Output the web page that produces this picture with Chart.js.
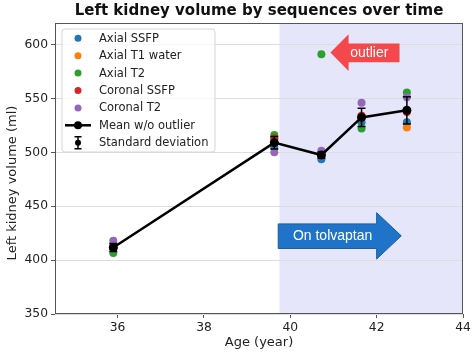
<!DOCTYPE html>
<html>
<head>
<meta charset="utf-8">
<script src="https://cdn.jsdelivr.net/npm/chart.js@4.4.0/dist/chart.umd.min.js"></script>
<style>
  html, body { margin: 0; padding: 0; background: #ffffff; }
  #wrap { width: 474px; height: 355px; }
</style>
</head>
<body>
<div id="wrap"><canvas id="c" width="474" height="355"></canvas></div>
<script>
// ---- data ----
const ages         = [35.9, 39.63, 40.72, 41.65, 42.7];
const axialSSFP    = [412, 505, 493.5, 528, 528];
const axialT1water = [411, 512, 497, 532, 523];
const axialT2      = [406.5, 516, 591, 522, 555.5];
const coronalSSFP  = [411, 513, 498, 534, 537.5];
const coronalT2    = [418, 500, 501.5, 546, 551];
const meanNoOutlier = [411.7, 509, 497.5, 532.4, 539];
const stdDev        = [3.7, 5.8, 2.8, 8.5, 12.6];
const xTicks = [36, 38, 40, 42, 44];
const yTicks = [350, 400, 450, 500, 550, 600];
const treatmentStart = 39.75;
const seriesNames = ['Axial SSFP', 'Axial T1 water', 'Axial T2', 'Coronal SSFP', 'Coronal T2'];
const seriesColors = ['#1f77b4', '#ff7f0e', '#2ca02c', '#d62728', '#9467bd'];
const seriesValues = [axialSSFP, axialT1water, axialT2, coronalSSFP, coronalT2];

const FONT = '"DejaVu Sans", sans-serif';

function pts(vals) { return ages.map((a, i) => ({ x: a, y: vals[i] })); }

const datasets = seriesValues.map((v, i) => ({
  label: seriesNames[i],
  data: pts(v),
  showLine: false,
  pointRadius: 4,
  pointBorderWidth: 0,
  pointBackgroundColor: seriesColors[i],
  pointBorderColor: seriesColors[i],
  order: 5 - i
}));
datasets.push({
  label: 'Mean w/o outlier',
  data: pts(meanNoOutlier),
  showLine: true,
  borderColor: '#000',
  borderWidth: 2.5,
  pointRadius: 4.5,
  pointBorderWidth: 0,
  pointBackgroundColor: '#000',
  order: 0
});

const decor = {
  id: 'decor',
  beforeDraw(chart) {
    const { ctx, chartArea: a, scales: { x, y } } = chart;
    ctx.save();
    ctx.fillStyle = '#ffffff';
    ctx.fillRect(0, 0, chart.width, chart.height);
    const xs = x.getPixelForValue(treatmentStart);
    ctx.fillStyle = '#e6e6fa';
    ctx.fillRect(xs, a.top, a.right - xs, a.bottom - a.top);
    ctx.restore();
  },
  afterDatasetsDraw(chart) {
    const { ctx, chartArea: a, scales: { x, y } } = chart;
    ctx.save();
    // error bars
    ctx.strokeStyle = '#000';
    ctx.lineWidth = 1.5;
    ages.forEach((age, i) => {
      const px = x.getPixelForValue(age);
      const t = y.getPixelForValue(meanNoOutlier[i] + stdDev[i]);
      const b = y.getPixelForValue(meanNoOutlier[i] - stdDev[i]);
      ctx.beginPath();
      ctx.moveTo(px, t); ctx.lineTo(px, b);
      ctx.moveTo(px - 4, t); ctx.lineTo(px + 4, t);
      ctx.moveTo(px - 4, b); ctx.lineTo(px + 4, b);
      ctx.stroke();
    });

    // outlier arrow (left pointing)
    const X = v => x.getPixelForValue(v), Y = v => y.getPixelForValue(v);
    ctx.fillStyle = '#f5484c';
    ctx.beginPath();
    ctx.moveTo(X(40.93), Y(592.6));
    ctx.lineTo(X(41.35), Y(609.5));
    ctx.lineTo(X(41.35), Y(601));
    ctx.lineTo(X(42.53), Y(601));
    ctx.lineTo(X(42.53), Y(583.5));
    ctx.lineTo(X(41.35), Y(583.5));
    ctx.lineTo(X(41.35), Y(575.5));
    ctx.closePath();
    ctx.fill();
    ctx.fillStyle = '#ffffff';
    ctx.font = '14px "Liberation Sans", Arial, sans-serif';
    ctx.textAlign = 'center';
    ctx.textBaseline = 'middle';
    ctx.fillText('outlier', X(41.83), Y(592.3));

    // on tolvaptan arrow (right pointing)
    ctx.fillStyle = '#1f74c9';
    ctx.strokeStyle = '#1a5c9e';
    ctx.lineWidth = 1;
    ctx.beginPath();
    ctx.moveTo(X(39.72), Y(433.6));
    ctx.lineTo(X(42.0), Y(433.6));
    ctx.lineTo(X(42.0), Y(444));
    ctx.lineTo(X(42.57), Y(422.5));
    ctx.lineTo(X(42.0), Y(401));
    ctx.lineTo(X(42.0), Y(410.8));
    ctx.lineTo(X(39.72), Y(410.8));
    ctx.closePath();
    ctx.fill();
    ctx.stroke();
    ctx.fillStyle = '#ffffff';
    ctx.fillText('On tolvaptan', X(40.98), Y(422.3));
    ctx.restore();
  },
  afterDraw(chart) {
    const { ctx, chartArea: a } = chart;
    ctx.save();
    // axes box
    ctx.strokeStyle = '#555';
    ctx.lineWidth = 1;
    ctx.strokeRect(a.left + 0.5, a.top + 0.5, a.right - a.left - 1, a.bottom - a.top - 1);

    // title
    ctx.fillStyle = '#111';
    ctx.textAlign = 'center';
    ctx.textBaseline = 'middle';
    ctx.font = 'bold 15px ' + FONT;
    ctx.fillText('Left kidney volume by sequences over time', (a.left + a.right) / 2, 11.5);

    // axis titles
    ctx.font = '13px ' + FONT;
    ctx.fillStyle = '#222';
    ctx.fillText('Age (year)', (a.left + a.right) / 2, 343);
    ctx.save();
    ctx.translate(13, 183);
    ctx.rotate(-Math.PI / 2);
    ctx.fillText('Left kidney volume (ml)', 0, 0);
    ctx.restore();

    // legend
    const lx = 62, ly = 29, lw = 153, lh = 123, r = 3;
    ctx.beginPath();
    ctx.moveTo(lx + r, ly);
    ctx.arcTo(lx + lw, ly, lx + lw, ly + lh, r);
    ctx.arcTo(lx + lw, ly + lh, lx, ly + lh, r);
    ctx.arcTo(lx, ly + lh, lx, ly, r);
    ctx.arcTo(lx, ly, lx + lw, ly, r);
    ctx.closePath();
    ctx.fillStyle = 'rgba(255,255,255,0.8)';
    ctx.fill();
    ctx.strokeStyle = '#d6d6d6';
    ctx.lineWidth = 1;
    ctx.stroke();

    const labels = seriesNames.concat(['Mean w/o outlier', 'Standard deviation']);
    ctx.font = '11.5px ' + FONT;
    ctx.textAlign = 'left';
    ctx.textBaseline = 'middle';
    labels.forEach((lab, i) => {
      const yy = 38.3 + i * 17.4;
      const mx = 78;
      if (i < 5) {
        ctx.fillStyle = seriesColors[i];
        ctx.beginPath(); ctx.arc(mx, yy, 3.5, 0, Math.PI * 2); ctx.fill();
      } else if (i === 5) {
        ctx.strokeStyle = '#000'; ctx.lineWidth = 2.5;
        ctx.beginPath(); ctx.moveTo(65, yy); ctx.lineTo(91, yy); ctx.stroke();
        ctx.fillStyle = '#000';
        ctx.beginPath(); ctx.arc(mx, yy, 4, 0, Math.PI * 2); ctx.fill();
      } else {
        ctx.strokeStyle = '#000'; ctx.lineWidth = 1.5;
        ctx.beginPath();
        ctx.moveTo(mx, yy - 6); ctx.lineTo(mx, yy + 6);
        ctx.moveTo(mx - 3.5, yy - 6); ctx.lineTo(mx + 3.5, yy - 6);
        ctx.moveTo(mx - 3.5, yy + 6); ctx.lineTo(mx + 3.5, yy + 6);
        ctx.stroke();
        ctx.fillStyle = '#000';
        ctx.beginPath(); ctx.arc(mx, yy, 3, 0, Math.PI * 2); ctx.fill();
      }
      ctx.fillStyle = '#222';
      ctx.fillText(lab, 99, yy + 0.5);
    });
    ctx.restore();
  }
};

new Chart(document.getElementById('c'), {
  type: 'scatter',
  data: { datasets },
  options: {
    responsive: false,
    animation: false,
    devicePixelRatio: 1,
    layout: { padding: { left: 0, right: 11, top: 23, bottom: 0 } },
    plugins: { legend: { display: false }, title: { display: false }, tooltip: { enabled: false } },
    scales: {
      x: {
        type: 'linear',
        min: 34.55, max: 44,
        afterBuildTicks: s => { s.ticks = xTicks.map(v => ({ value: v })); },
        afterFit: s => { s.height = 41; },
        grid: { drawOnChartArea: false, drawTicks: true, tickLength: 4, tickColor: '#555' },
        border: { display: false },
        ticks: { color: '#222', font: { family: FONT, size: 12.3 }, padding: 2, maxRotation: 0, autoSkip: false }
      },
      y: {
        type: 'linear',
        min: 350, max: 620,
        afterBuildTicks: s => { s.ticks = yTicks.map(v => ({ value: v })); },
        afterFit: s => { s.width = 55; },
        grid: { color: '#dddddd', lineWidth: 1, drawTicks: true, tickLength: 4, tickColor: '#555' },
        border: { display: false },
        ticks: { color: '#222', font: { family: FONT, size: 12.3 }, padding: 3 }
      }
    }
  },
  plugins: [decor]
});
</script>
</body>
</html>
